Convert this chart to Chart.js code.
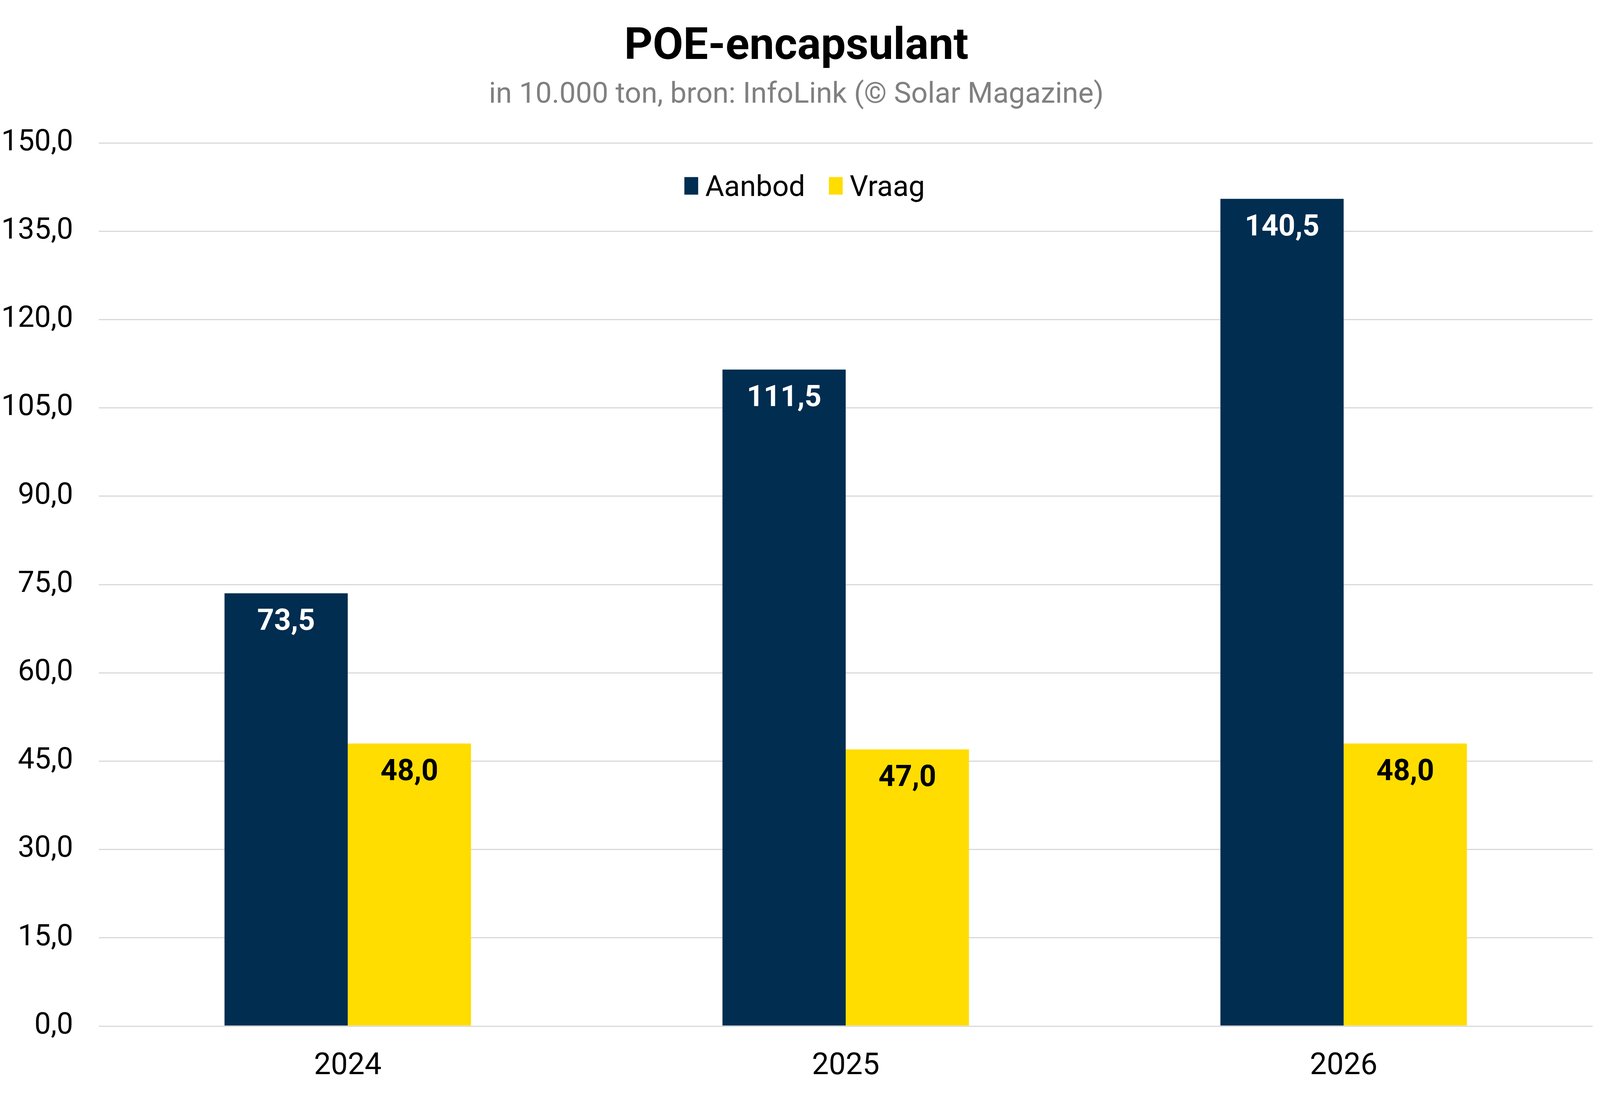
<!DOCTYPE html>
<html lang="nl">
<head>
<meta charset="utf-8">
<title>POE-encapsulant</title>
<script src="https://cdn.jsdelivr.net/npm/chart.js@4.4.1/dist/chart.umd.min.js"></script>
<style>
  html, body { margin: 0; padding: 0; background: #fff; overflow: hidden; }
  #wrap { position: relative; width: 100vw; height: 100vh; }
</style>
</head>
<body>
<div id="wrap"><canvas id="chart"></canvas></div>
<script>
'use strict';

// ── Data ─────────────────────────────────────────────────────────────────────

var years    = ['2024', '2025', '2026'];
var aanbod   = [73.5, 111.5, 140.5];
var vraag    = [48.0, 47.0, 48.0];
var yTicks   = [0, 15, 30, 45, 60, 75, 90, 105, 120, 135, 150];

var NAVY   = '#002d50';
var YELLOW = '#ffdd00';
var FONT   = 'Roboto, "Noto Sans", sans-serif';

// ── Scaling ──────────────────────────────────────────────────────────────────
// Measurements come from the 4989x2807 reference. The viewport may be
// narrower, so x and y are mapped separately and fonts use the mean.

var SX = window.innerWidth / 4989;
var SY = window.innerHeight / 2807;
var SF = Math.sqrt(SX * SY);
function px(v) { return v * SX; }
function py(v) { return v * SY; }
function pf(v) { return v * SF; }

var CAP = 0.711;   // Roboto cap height / em

var TITLE_SIZE = pf(125);
var SUB_SIZE   = pf(82);
// canvas 'middle' puts Roboto caps ~0.105em above the line box centre
var titleTop   = py(111) - (0.6 - 0.105) * TITLE_SIZE;
var titleBot   = titleTop + 1.2 * TITLE_SIZE;
var subTop     = Math.max(0, py(237) - titleBot - (0.6 - 0.105) * SUB_SIZE);
var subBottom  = Math.max(0, py(366) - titleBot - subTop - 1.2 * SUB_SIZE);

function fmt(v) {
  return v.toFixed(1).replace('.', ',');
}

// ── Value labels inside the top of each bar ─────────────────────────────────

var valueLabels = {
  id: 'valueLabels',
  afterDatasetsDraw: function (chart) {
    var ctx  = chart.ctx;
    var size = pf(83);
    ctx.save();
    ctx.font = 'bold ' + size + 'px ' + FONT;
    ctx.textAlign = 'center';
    ctx.textBaseline = 'alphabetic';
    chart.data.datasets.forEach(function (ds, i) {
      var meta = chart.getDatasetMeta(i);
      meta.data.forEach(function (bar, j) {
        ctx.fillStyle = ds.labelColor;
        ctx.fillText(fmt(ds.data[j]), bar.x, bar.y + py(40) + CAP * size);
      });
    });
    ctx.restore();
  }
};

// ── Legend centred on the canvas, inside the plot ───────────────────────────

var innerLegend = {
  id: 'innerLegend',
  afterDraw: function (chart) {
    var ctx = chart.ctx;
    var bw = px(43), bh = py(45), gap = px(22), itemGap = px(74);
    var y = py(476);
    ctx.save();
    ctx.font = pf(82) + 'px ' + FONT;
    ctx.textBaseline = 'alphabetic';
    var widths = chart.data.datasets.map(function (ds) {
      return bw + gap + ctx.measureText(ds.label).width;
    });
    var total = widths.reduce(function (a, b) { return a + b; }, 0) + itemGap * (widths.length - 1);
    var x = px(2509) - total / 2;
    chart.data.datasets.forEach(function (ds, i) {
      ctx.fillStyle = ds.backgroundColor;
      ctx.fillRect(x, y - bh / 2, bw, bh);
      ctx.fillStyle = '#000';
      ctx.textAlign = 'left';
      ctx.fillText(ds.label, x + bw + gap, y + CAP * pf(82) / 2);
      x += widths[i] + itemGap;
    });
    ctx.restore();
  }
};

// ── Chart ────────────────────────────────────────────────────────────────────

new Chart(document.getElementById('chart'), {
  type: 'bar',
  data: {
    labels: years,
    datasets: [
      { label: 'Aanbod', data: aanbod, backgroundColor: NAVY,   labelColor: '#fff' },
      { label: 'Vraag',  data: vraag,  backgroundColor: YELLOW, labelColor: '#000' }
    ]
  },
  plugins: [valueLabels, innerLegend],
  options: {
    responsive: true,
    maintainAspectRatio: false,
    animation: false,
    layout: { padding: { left: 0, right: px(23), top: 0, bottom: 0 } },
    datasets: {
      bar: { categoryPercentage: 0.495, barPercentage: 1.0 }
    },
    scales: {
      x: {
        afterFit: function (axis) { axis.height = py(2807 - 2628); },
        grid: { display: false },
        border: { display: false },
        ticks: { color: '#000', font: { family: FONT, size: pf(85) }, padding: py(50) }
      },
      y: {
        min: 0,
        max: 150,
        afterBuildTicks: function (axis) {
          axis.ticks = yTicks.map(function (v) { return { value: v }; });
        },
        afterFit: function (axis) { axis.width = px(308); },
        grid: { color: '#d9d9d9', lineWidth: py(3), drawTicks: false },
        border: { display: false },
        ticks: {
          color: '#000',
          font: { family: FONT, size: pf(83) },
          padding: px(80),
          callback: function (v) { return fmt(v); }
        }
      }
    },
    plugins: {
      legend: { display: false },
      tooltip: { enabled: false },
      title: {
        display: true,
        text: 'POE-encapsulant',
        color: '#000',
        font: { family: FONT, size: TITLE_SIZE, weight: 'bold', lineHeight: 1.2 },
        padding: { top: titleTop, bottom: 0 }
      },
      subtitle: {
        display: true,
        text: 'in 10.000 ton, bron: InfoLink (\u00a9 Solar Magazine)',
        color: '#808080',
        font: { family: FONT, size: SUB_SIZE, lineHeight: 1.2 },
        padding: { top: subTop, bottom: subBottom }
      }
    }
  }
});
</script>
</body>
</html>
